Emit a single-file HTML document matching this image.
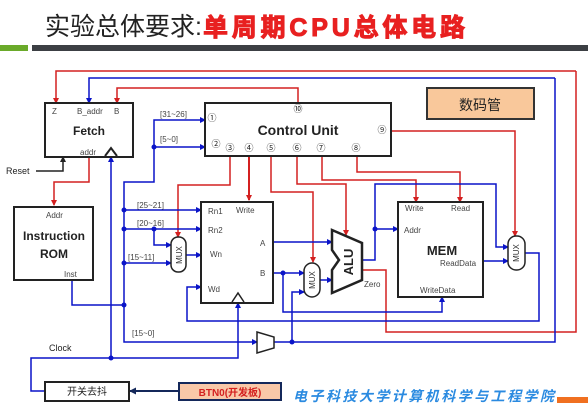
<!DOCTYPE html>
<html><head><meta charset="utf-8"><style>
html,body{margin:0;padding:0;background:#fff;}
svg{display:block;}
text{font-family:"Liberation Sans","Noto Sans CJK SC",sans-serif;}
</style></head><body>
<svg width="588" height="417" viewBox="0 0 588 417" xmlns="http://www.w3.org/2000/svg">
<defs>
<marker id="ab" markerWidth="6" markerHeight="6" refX="5" refY="3" orient="auto" markerUnits="userSpaceOnUse"><path d="M0,0 L6,3 L0,6z" fill="#0a14c8"/></marker>
<marker id="ar" markerWidth="6" markerHeight="6" refX="5" refY="3" orient="auto" markerUnits="userSpaceOnUse"><path d="M0,0 L6,3 L0,6z" fill="#d42020"/></marker>
<marker id="ak" markerWidth="6" markerHeight="6" refX="5" refY="3" orient="auto" markerUnits="userSpaceOnUse"><path d="M0,0 L6,3 L0,6z" fill="#222"/></marker>
<marker id="an" markerWidth="7" markerHeight="7" refX="6" refY="3.5" orient="auto" markerUnits="userSpaceOnUse"><path d="M0,0 L7,3.5 L0,7z" fill="#14285a"/></marker>
</defs>
<!-- title -->
<text x="45" y="35" font-size="25" fill="#222" font-family="Liberation Sans,Noto Sans CJK SC,sans-serif">实验总体要求:</text>
<text x="203" y="36" font-size="25" font-weight="bold" fill="#e82020" stroke="#e82020" stroke-width="1" font-family="Liberation Sans,Noto Sans CJK SC,sans-serif" textLength="262">单周期CPU总体电路</text>
<rect x="0" y="45" width="28" height="6" fill="#6aaa2a"/>
<rect x="32" y="45" width="556" height="6" fill="#3c3f44"/>

<g fill="none" stroke-width="1.5">
<!-- red lines -->
<path d="M576,71 H56 V103" stroke="#d42020" marker-end="url(#ar)"/>
<path d="M576,71 V332 H386 V270 H361" stroke="#d42020"/>
<path d="M298,104 V88 H117 V103" stroke="#d42020" marker-end="url(#ar)"/>
<path d="M392,131 H515 V236" stroke="#d42020" marker-end="url(#ar)"/>
<path d="M357,155 V172 H460 V202" stroke="#d42020" marker-end="url(#ar)"/>
<path d="M322,155 V180 H416 V202" stroke="#d42020" marker-end="url(#ar)"/>
<path d="M297,155 V184 H346 V235" stroke="#d42020" marker-end="url(#ar)"/>
<path d="M271,155 V192 H313 V262" stroke="#d42020" marker-end="url(#ar)"/>
<path d="M249,155 V200" stroke="#d42020" stroke-width="2" marker-end="url(#ar)"/>
<path d="M230,155 V185 H178 V237" stroke="#d42020" marker-end="url(#ar)"/>
<path d="M89,157 V182 H54 V205" stroke="#d42020" marker-end="url(#ar)"/>
<!-- blue -->
<path d="M555,78 H89 V103" stroke="#0a14c8" marker-end="url(#ab)"/>
<path d="M555,78 V342 H274" stroke="#0a14c8"/>
<path d="M111,358 V157" stroke="#0a14c8" marker-end="url(#ab)"/>
<path d="M154,147 H205" stroke="#0a14c8" marker-end="url(#ab)"/>
<path d="M154,147 V120 H205" stroke="#0a14c8" marker-end="url(#ab)"/>
<path d="M154,147 V182 H124 V342 H257" stroke="#0a14c8" marker-end="url(#ab)"/>
<path d="M124,210 H201" stroke="#0a14c8" marker-end="url(#ab)"/>
<path d="M124,229 H201" stroke="#0a14c8" marker-end="url(#ab)"/>
<path d="M154,229 V245 H171" stroke="#0a14c8" marker-end="url(#ab)"/>
<path d="M124,263 H171" stroke="#0a14c8" marker-end="url(#ab)"/>
<path d="M186,255 H201" stroke="#0a14c8" marker-end="url(#ab)"/>
<path d="M72,280 V305 H124" stroke="#0a14c8"/>
<path d="M273,242 H332" stroke="#0a14c8" marker-end="url(#ab)"/>
<path d="M273,273 H304" stroke="#0a14c8" marker-end="url(#ab)"/>
<path d="M283,273 V312 H442 V297" stroke="#0a14c8" marker-end="url(#ab)"/>
<path d="M292,342 V292 H304" stroke="#0a14c8" marker-end="url(#ab)"/>
<path d="M320,280 H332" stroke="#0a14c8" marker-end="url(#ab)"/>
<path d="M362,260 H375 V184 H496 V247 H508" stroke="#0a14c8" marker-end="url(#ab)"/>
<path d="M375,229 H398" stroke="#0a14c8" marker-end="url(#ab)"/>
<path d="M483,261 H508" stroke="#0a14c8" marker-end="url(#ab)"/>
<path d="M525,253 H539 V321 H187 V287 H201" stroke="#0a14c8" marker-end="url(#ab)"/>
<path d="M45,391 H31 V358 H238 V303" stroke="#0a14c8" marker-end="url(#ab)"/>
<!-- reset -->
<path d="M36,171 H63 V157" stroke="#222" marker-end="url(#ak)"/>
<path d="M179,391 H130" stroke="#14285a" stroke-width="2" marker-end="url(#an)"/>
</g>
<g fill="#0a14c8">
<circle cx="154" cy="147" r="2.5"/><circle cx="124" cy="210" r="2.5"/><circle cx="124" cy="229" r="2.5"/>
<circle cx="154" cy="229" r="2.5"/><circle cx="124" cy="263" r="2.5"/><circle cx="124" cy="305" r="2.5"/>
<circle cx="283" cy="273" r="2.5"/><circle cx="292" cy="342" r="2.5"/><circle cx="375" cy="229" r="2.5"/>
<circle cx="111" cy="358" r="2.5"/>
</g>

<!-- boxes -->
<g fill="#fff" stroke="#222" stroke-width="2">
<rect x="45" y="103" width="88" height="54"/>
<rect x="205" y="103" width="186" height="53"/>
<rect x="14" y="207" width="79" height="73"/>
<rect x="201" y="202" width="72" height="101"/>
<rect x="398" y="202" width="85" height="95"/>
<rect x="45" y="382" width="84" height="19"/>
</g>
<rect x="427" y="88" width="107" height="31" fill="#f9c89b" stroke="#333" stroke-width="2"/>
<rect x="179" y="383" width="102" height="17" fill="#f9c8a8" stroke="#14285a" stroke-width="2"/>
<path d="M105,156 L111,148 L117,156" fill="none" stroke="#222" stroke-width="2"/>
<path d="M232,302 L238,293 L244,302" fill="none" stroke="#222" stroke-width="1.5"/>
<!-- muxes -->
<g fill="#fff" stroke="#222" stroke-width="1.5">
<rect x="171" y="237" width="15" height="35" rx="7"/>
<rect x="304" y="263" width="16" height="34" rx="8"/>
<rect x="508" y="236" width="17" height="34" rx="8"/>
<path d="M332,230 L362,243 L362,280 L332,293 L332,270 L339,260 L332,250 Z" stroke-width="2.5"/>
<path d="M257,332 L274,337 L274,348 L257,353 Z"/>
</g>
<g font-size="8" fill="#333">
<text transform="translate(182,255) rotate(-90)" text-anchor="middle">MUX</text>
<text transform="translate(315,280) rotate(-90)" text-anchor="middle">MUX</text>
<text transform="translate(519,253) rotate(-90)" text-anchor="middle">MUX</text>
</g>
<text transform="translate(353,262) rotate(-90)" text-anchor="middle" font-size="13" font-weight="bold" fill="#222">ALU</text>

<!-- labels -->
<g font-size="8" fill="#444">
<text x="52" y="114">Z</text><text x="77" y="114">B_addr</text><text x="114" y="114">B</text>
<text x="80" y="155">addr</text>
<text x="46" y="218">Addr</text><text x="64" y="277">Inst</text>
<text x="208" y="214">Rn1</text><text x="236" y="213">Write</text><text x="208" y="233">Rn2</text>
<text x="210" y="257">Wn</text><text x="260" y="246">A</text><text x="260" y="276">B</text><text x="208" y="292">Wd</text>
<text x="405" y="211">Write</text><text x="451" y="211">Read</text><text x="404" y="233">Addr</text>
<text x="440" y="266">ReadData</text><text x="420" y="293">WriteData</text>
<text x="364" y="287">Zero</text>
<text x="160" y="117">[31~26]</text><text x="160" y="142">[5~0]</text>
<text x="137" y="208">[25~21]</text><text x="137" y="226">[20~16]</text><text x="128" y="260">[15~11]</text>
<text x="132" y="336">[15~0]</text>
</g>
<text x="6" y="174" font-size="9" fill="#222">Reset</text>
<text x="49" y="351" font-size="9" fill="#222">Clock</text>
<text x="89" y="135" font-size="12" font-weight="bold" fill="#222" text-anchor="middle">Fetch</text>
<text x="298" y="135" font-size="14" font-weight="bold" fill="#222" text-anchor="middle">Control Unit</text>
<text x="54" y="240" font-size="12" font-weight="bold" fill="#222" text-anchor="middle">Instruction</text>
<text x="54" y="258" font-size="12" font-weight="bold" fill="#222" text-anchor="middle">ROM</text>
<text x="442" y="255" font-size="13" font-weight="bold" fill="#222" text-anchor="middle">MEM</text>
<text x="480" y="110" font-size="14" fill="#222" text-anchor="middle">数码管</text>
<g font-size="9" fill="#222">
<text x="298" y="112" text-anchor="middle">⑩</text>
<text x="212" y="121" text-anchor="middle">①</text><text x="216" y="147" text-anchor="middle">②</text>
<text x="230" y="151" text-anchor="middle">③</text><text x="249" y="151" text-anchor="middle">④</text>
<text x="271" y="151" text-anchor="middle">⑤</text><text x="297" y="151" text-anchor="middle">⑥</text>
<text x="321" y="151" text-anchor="middle">⑦</text><text x="356" y="151" text-anchor="middle">⑧</text>
<text x="382" y="133" text-anchor="middle">⑨</text>
</g>
<text x="87" y="395" font-size="10" fill="#222" text-anchor="middle">开关去抖</text>
<text x="230" y="396" font-size="10" font-weight="bold" fill="#d42020" text-anchor="middle">BTN0(开发板)</text>
<text x="293" y="401" font-size="14" font-weight="bold" font-style="italic" fill="#2a8ae0" textLength="261">电子科技大学计算机科学与工程学院</text>
<rect x="557" y="397" width="31" height="6" fill="#f07020"/>
</svg>
</body></html>
